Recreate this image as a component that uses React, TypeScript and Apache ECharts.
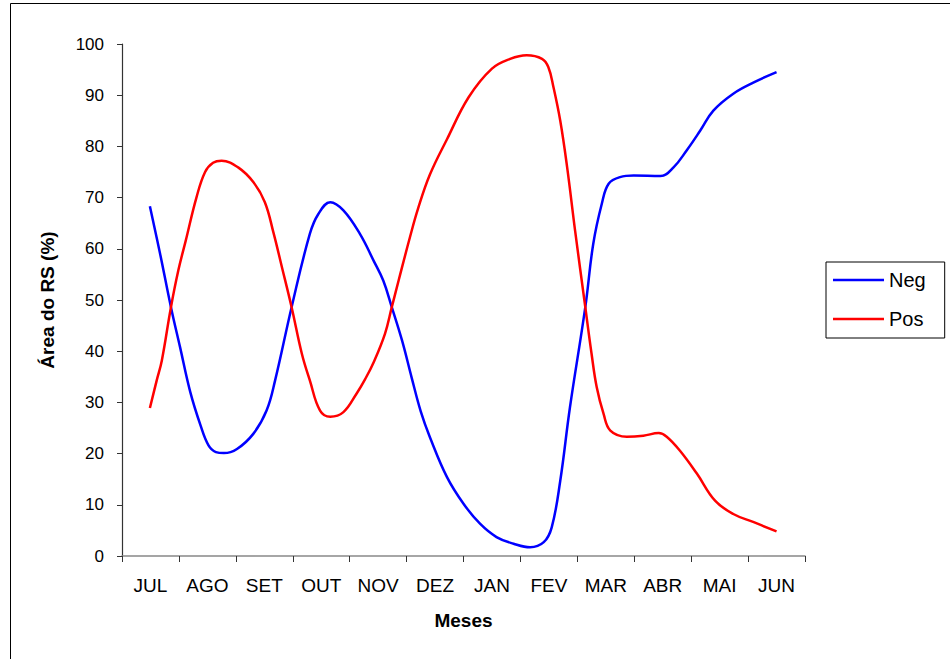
import React, { useEffect, useRef } from "react";
import * as echarts from "echarts";

// Month labels of the category axis (July to June)
const months = ["JUL", "AGO", "SET", "OUT", "NOV", "DEZ", "JAN", "FEV", "MAR", "ABR", "MAI", "JUN"];

// Positions are in month units on the hidden value axis (0.5 = centre of JUL)
const negData: [number, number][] = [
  [0.49, 68.3], [0.67, 59], [0.86, 48.6], [1.02, 40.8], [1.2, 32], [1.38, 25.5],
  [1.52, 21.6], [1.65, 20.3], [1.79, 20.1], [2.02, 20.9], [2.31, 23.9],
  [2.54, 28.4], [2.69, 34.3], [2.98, 48.6], [3.3, 62.9], [3.45, 66.8], [3.66, 69.1],
  [3.89, 67.5], [4.18, 62.9], [4.42, 57.7], [4.59, 53.8], [4.74, 48.6], [4.92, 42.1],
  [5.09, 34.8], [5.25, 28.2], [5.41, 23.2], [5.71, 15.4], [6.0, 10.2], [6.29, 6.3],
  [6.58, 3.7], [6.88, 2.4], [7.17, 1.7], [7.41, 2.7], [7.55, 5.6], [7.7, 14.7],
  [7.87, 29], [8.14, 48.6], [8.28, 61], [8.43, 68.8], [8.55, 72.7], [8.75, 74],
  [8.99, 74.3], [9.46, 74.2], [9.69, 75.9], [9.92, 79.2], [10.16, 83.1], [10.39, 87],
  [10.74, 90.3], [11.1, 92.5], [11.5, 94.5],
];

const posData: [number, number][] = [
  [0.49, 28.9], [0.61, 34.3], [0.7, 38.2], [0.86, 48.6], [0.99, 55.8], [1.12, 61.6],
  [1.31, 70.1], [1.46, 75], [1.6, 76.8], [1.75, 77.2], [2.04, 75.9], [2.31, 73],
  [2.51, 69.1], [2.66, 63.2], [2.81, 56.4], [2.98, 48.6], [3.16, 39.5], [3.3, 34.3],
  [3.48, 28.4], [3.66, 27.2], [3.89, 28.1], [4.12, 31.7], [4.27, 34.5], [4.42, 37.8],
  [4.62, 43.4], [4.74, 48.6], [4.86, 53.8], [5.06, 62.3], [5.2, 67.8], [5.41, 74.5],
  [5.71, 81.4], [6.09, 89.6], [6.5, 95.2], [6.82, 97.1], [7.11, 97.8],
  [7.38, 97.1], [7.49, 95.5], [7.58, 91.6], [7.7, 85], [7.82, 76], [7.96, 63.6],
  [8.14, 48.6], [8.25, 39.5], [8.34, 33], [8.46, 27.8], [8.58, 24.5], [8.87, 23.3],
  [9.16, 23.5], [9.43, 24], [9.57, 23.3], [9.8, 20.6], [10.1, 16.1], [10.42, 10.8],
  [10.74, 8.2], [11.1, 6.6], [11.5, 4.8],
];

const FONT = "'Liberation Sans', Arial, sans-serif";

export default function App() {
  const ref = useRef<HTMLDivElement>(null);

  useEffect(() => {
    if (!ref.current) return;
    const chart = echarts.init(ref.current, undefined, { renderer: "svg" });
    chart.setOption({
      animation: false,
      backgroundColor: "#ffffff",
      textStyle: { fontFamily: FONT },
      graphic: [
        {
          type: "rect",
          shape: { x: 10.5, y: 3.5, width: 1000, height: 1000 },
          style: { fill: "none", stroke: "#000", lineWidth: 1 },
          silent: true,
        },
      ],
      grid: { left: 122, right: 145, top: 44, bottom: 103, containLabel: false },
      legend: {
        orient: "vertical",
        left: 826,
        top: 262,
        padding: [8, 19, 9, 7],
        borderColor: "#000",
        borderWidth: 1,
        itemGap: 19,
        itemWidth: 51,
        itemHeight: 2.5,
        icon: "rect",
        textStyle: { fontSize: 20, color: "#000", fontFamily: FONT },
        data: ["Neg", "Pos"],
      },
      xAxis: [
        {
          type: "category",
          data: months,
          boundaryGap: true,
          axisLine: { lineStyle: { color: "#888", width: 1.5 } },
          axisTick: { show: true, alignWithLabel: false, length: 6, lineStyle: { color: "#333" } },
          axisLabel: { fontSize: 19, color: "#000", margin: 20, fontFamily: FONT },
          name: "Meses",
          nameLocation: "middle",
          nameGap: 55,
          nameTextStyle: { fontSize: 19, fontWeight: "bold", color: "#000", fontFamily: FONT },
          splitLine: { show: false },
        },
        {
          type: "value",
          min: 0,
          max: 12,
          show: false,
          splitLine: { show: false },
        },
      ],
      yAxis: {
        type: "value",
        min: 0,
        max: 100,
        interval: 10,
        axisLine: { show: true, lineStyle: { color: "#333", width: 1.2 } },
        axisTick: { show: true, length: 5, lineStyle: { color: "#333" } },
        axisLabel: { fontSize: 17, color: "#000", margin: 18, fontFamily: FONT },
        splitLine: { show: false },
        name: "Área do RS (%)",
        nameLocation: "middle",
        nameGap: 65,
        nameTextStyle: { fontSize: 19, fontWeight: "bold", color: "#000", fontFamily: FONT },
      },
      series: [
        {
          name: "Neg",
          type: "line",
          xAxisIndex: 1,
          data: negData,
          smooth: 0.4,
          showSymbol: false,
          lineStyle: { color: "#0000ff", width: 2.5 },
          itemStyle: { color: "#0000ff" },
        },
        {
          name: "Pos",
          type: "line",
          xAxisIndex: 1,
          data: posData,
          smooth: 0.4,
          showSymbol: false,
          lineStyle: { color: "#ff0000", width: 2.5 },
          itemStyle: { color: "#ff0000" },
        },
      ],
    });
    return () => chart.dispose();
  }, []);

  return (
    <div
      ref={ref}
      style={{ position: "fixed", left: 0, top: 0, width: 950, height: 659, background: "#fff" }}
    />
  );
}
